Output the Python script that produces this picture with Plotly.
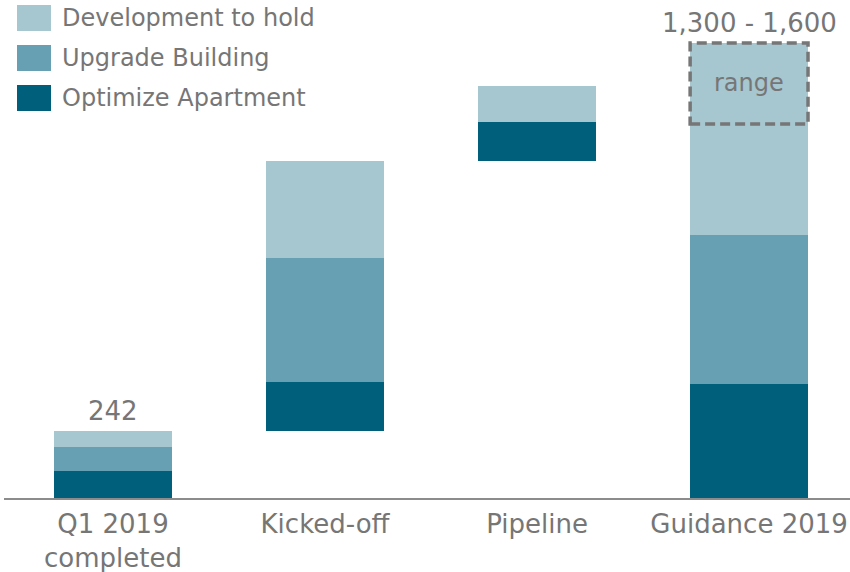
import plotly.graph_objects as go

# ---- data ----
categories = ["Q1 2019<br>completed", "Kicked-off", "Pipeline", "Guidance 2019"]
base_values = [0, 242, 1217, 0]          # invisible floating offsets
optimize_apartment = [98, 177, 141, 413]
upgrade_building = [87, 448, 0, 537]
development_to_hold = [57, 350, 129, 693]
top_labels = ["242", None, None, "1,300 - 1,600"]
range_bounds = [1351, 1643]
series_names = ["Development to hold", "Upgrade Building", "Optimize Apartment"]

# ---- style ----
W, H = 850, 572
ML, MR, MT, MB = 4, 0, 0, 74
C_LIGHT, C_MID, C_DARK = "#A6C6D0", "#66A0B2", "#005F7A"
TEXT = "#767676"
FONT = "DejaVu Sans"
BAR_W = 0.556

fig = go.Figure()
fig.add_bar(x=categories, y=base_values, marker_color="rgba(0,0,0,0)",
            marker_line_width=0, width=BAR_W, showlegend=False, hoverinfo="skip")
fig.add_bar(x=categories, y=optimize_apartment, name=series_names[2],
            marker_color=C_DARK, marker_line_width=0, width=BAR_W)
fig.add_bar(x=categories, y=upgrade_building, name=series_names[1],
            marker_color=C_MID, marker_line_width=0, width=BAR_W)
fig.add_bar(x=categories, y=development_to_hold, name=series_names[0],
            marker_color=C_LIGHT, marker_line_width=0, width=BAR_W)

totals = [b + o + u + d for b, o, u, d in
          zip(base_values, optimize_apartment, upgrade_building, development_to_hold)]

annotations = []
for i, lab in enumerate(top_labels):
    if lab:
        annotations.append(dict(x=categories[i], y=totals[i], text=lab, showarrow=False,
                                yanchor="bottom", yshift=3,
                                font=dict(family=FONT, size=26, color=TEXT)))

# range box on guidance bar
gi = 3
shapes = [dict(type="rect", xref="x", yref="y",
               x0=gi - BAR_W / 2, x1=gi + BAR_W / 2,
               y0=range_bounds[0], y1=range_bounds[1],
               line=dict(color=TEXT, width=3.5, dash="10px,5px"),
               fillcolor="rgba(0,0,0,0)")]
annotations.append(dict(x=gi, y=(range_bounds[0] + range_bounds[1]) / 2, text="range",
                        showarrow=False, font=dict(family=FONT, size=24, color=TEXT)))

# manual legend (large swatches)
pw, ph = W - ML - MR, H - MT - MB
def px_x(p): return (p - ML) / pw
def px_y(p): return (H - MB - p) / ph
legend_colors = [C_LIGHT, C_MID, C_DARK]
for k, (nm, col) in enumerate(zip(series_names, legend_colors)):
    top = 5 + 40 * k
    shapes.append(dict(type="rect", xref="paper", yref="paper",
                       x0=px_x(17), x1=px_x(51), y0=px_y(top + 26), y1=px_y(top),
                       fillcolor=col, line_width=0))
    annotations.append(dict(xref="paper", yref="paper", x=px_x(60), y=px_y(top + 13),
                            xanchor="left", yanchor="middle", text=nm, showarrow=False,
                            font=dict(family=FONT, size=24, color=TEXT)))

ymax = (H - MT - MB) / 0.2769
fig.update_layout(
    width=W, height=H, margin=dict(l=ML, r=MR, t=MT, b=MB),
    barmode="stack", showlegend=False,
    plot_bgcolor="white", paper_bgcolor="white",
    shapes=shapes, annotations=annotations,
    font=dict(family=FONT, color=TEXT),
    xaxis=dict(range=[-0.514, 3.476], showline=True, linecolor="#8c8c8c", linewidth=2,
               ticks="", showgrid=False, ticklabelstandoff=2,
               tickfont=dict(family=FONT, size=26, color=TEXT)),
    yaxis=dict(range=[0, ymax], visible=False, showgrid=False),
)

fig.write_html("out.html", config={"displayModeBar": False},
               post_script="document.body.style.margin='0';document.body.style.padding='0';")
